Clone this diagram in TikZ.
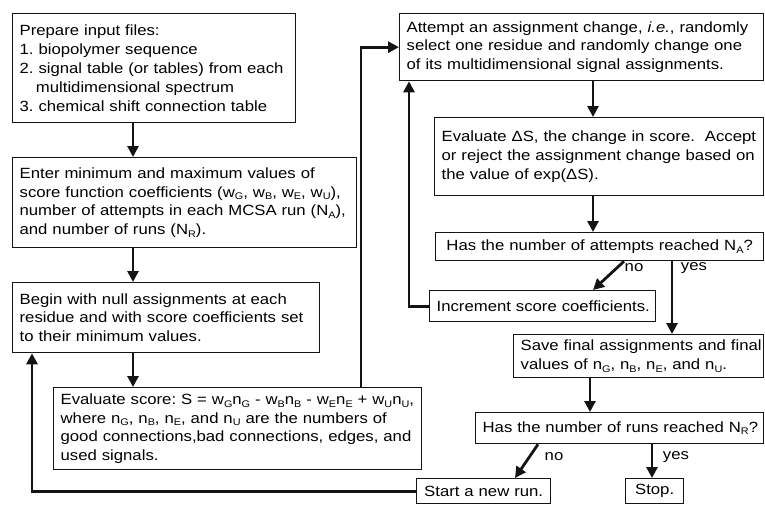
\documentclass[tikz,border=0pt]{standalone}
\usepackage{fontspec}
\setmainfont{Liberation Sans}[FakeStretch=1.13]
\usepackage{tikz}
\usetikzlibrary{
	arrows.meta, positioning, calc
}
\definecolor{flowdark}      {RGB}{ 20,  20,  20}
\newcommand{\sbs}[1]{\raisebox{-0.35ex}{\fontsize{9.6}{10}\selectfont #1}}
\frenchspacing

\begin{document}
\begin{tikzpicture}[x=1pt,y=-1pt,
		flowbox/.style={draw=flowdark,line width=1.3pt,anchor=north west,align=left,
			inner xsep=7pt,inner ysep=0pt,font=\fontsize{14.8}{18.8}\selectfont},
		onebox/.style={flowbox,align=center},
		flowarr/.style={draw=flowdark,line width=2.8pt,-{Triangle[length=11pt,width=11pt]}},
		lbl/.style={font=\fontsize{14.8}{17}\selectfont,inner sep=0pt}
	]
				\useasboundingbox (0,0) rectangle (765,504);
				% left column
				\node[flowbox,text width=269pt,minimum height=109pt] (prep) at (12,13) {Prepare input files:\\
					1. biopolymer sequence\\
					\mbox{2. signal table (or tables) from each}\\
					\hspace*{1.1em}multidimensional spectrum\\
					3. chemical shift connection table};
				\node[flowbox,text width=330pt,minimum height=90pt] (enter) at (12,157) {Enter minimum and maximum values of\\
					\mbox{score function coefficients (w\sbs{G}, w\sbs{B}, w\sbs{E}, w\sbs{U}),}\\
					\mbox{number of attempts in each MCSA run (N\sbs{A}),}\\
					and number of runs (N\sbs{R}).};
				\node[flowbox,text width=293pt,minimum height=70pt] (begin) at (12,282) {Begin with null assignments at each\\
					\mbox{residue and with score coefficients set}\\
					to their minimum values.};
				\node[flowbox,text width=354pt,minimum height=82pt] (evals) at (53,387) {\mbox{Evaluate score: S = w\sbs{G}n\sbs{G} - w\sbs{B}n\sbs{B} - w\sbs{E}n\sbs{E} + w\sbs{U}n\sbs{U},}\\
					where n\sbs{G}, n\sbs{B}, n\sbs{E}, and n\sbs{U} are the numbers of\\
					\mbox{good connections,bad connections, edges, and}\\
					used signals.};
				% right column
				\node[flowbox,text width=350pt,minimum height=67pt] (attempt) at (399,13) {\mbox{Attempt an assignment change, \textit{i.e.}, randomly}\\
					\mbox{select one residue and randomly change one}\\
					\mbox{of its multidimensional signal assignments.}};
				\node[flowbox,text width=315pt,minimum height=78pt] (evald) at (434,117) {\mbox{Evaluate ΔS, the change in score.\ \ Accept}\\
					\mbox{or reject the assignment change based on}\\
					the value of exp(ΔS).};
				\node[onebox,text width=314pt,minimum height=28pt] (hasA) at (435,232) {\mbox{Has the number of attempts reached N\sbs{A}?}};
				\node[onebox,text width=212pt,minimum height=31pt] (incr) at (429,290) {\mbox{Increment score coefficients.}};
				\node[flowbox,text width=236pt,minimum height=43pt] (save) at (513,334) {\mbox{Save final assignments and final}\\
					values of n\sbs{G}, n\sbs{B}, n\sbs{E}, and n\sbs{U}.};
				\node[onebox,text width=274pt,minimum height=31pt] (hasR) at (475,412) {\mbox{Has the number of runs reached N\sbs{R}?}};
				\node[onebox,text width=120pt,minimum height=25pt] (newrun) at (416,478) {\mbox{Start a new run.}};
				\node[onebox,text width=44pt,minimum height=25pt] (stop) at (625,478) {Stop.};
				% columns of the connectors
				\coordinate (xa) at (133,0);
				\coordinate (xb) at (361,0);
				\coordinate (xc) at (593,0);
				\coordinate (xd) at (624,0);
				\coordinate (xe) at (672,0);
				\coordinate (xf) at (409,0);
				\coordinate (xg) at (32,0);
				\coordinate (xh) at (590,0);
				\coordinate (xi) at (538,0);
				\coordinate (xj) at (515,0);
				\coordinate (xk) at (652,0);
				\draw[flowarr] (prep.south -| xa) -- (enter.north -| xa);
				\draw[flowarr] (enter.south -| xa) -- (begin.north -| xa);
				\draw[flowarr] (begin.south -| xa) -- (evals.north -| xa);
				\draw[flowarr] (evals.north -| xb) |- (attempt.west);
				\draw[flowarr] (attempt.south -| xc) -- (evald.north -| xc);
				\draw[flowarr] (evald.south -| xc) -- (hasA.north -| xc);
				\draw[flowarr] (hasA.south -| xd) -- (incr.north -| xc);
				\draw[flowarr] (hasA.south -| xe) -- (save.north -| xe);
				\draw[flowarr] (incr.west) -| (attempt.south -| xf);
				\draw[flowarr] (save.south -| xh) -- (hasR.north -| xh);
				\draw[flowarr] (hasR.south -| xi) -- (newrun.north -| xj);
				\draw[flowarr] (hasR.south -| xk) -- (stop.north -| xk);
				\draw[flowarr] (newrun.west) -| (begin.south -| xg);
				\node[lbl] (noA) at (634,268) {no};
				\node[lbl] (yesA) at (694,268) {yes};
				\node[lbl] (noR) at (554,457) {no};
				\node[lbl] (yesR) at (676,457) {yes};
			\end{tikzpicture}
\end{document}
